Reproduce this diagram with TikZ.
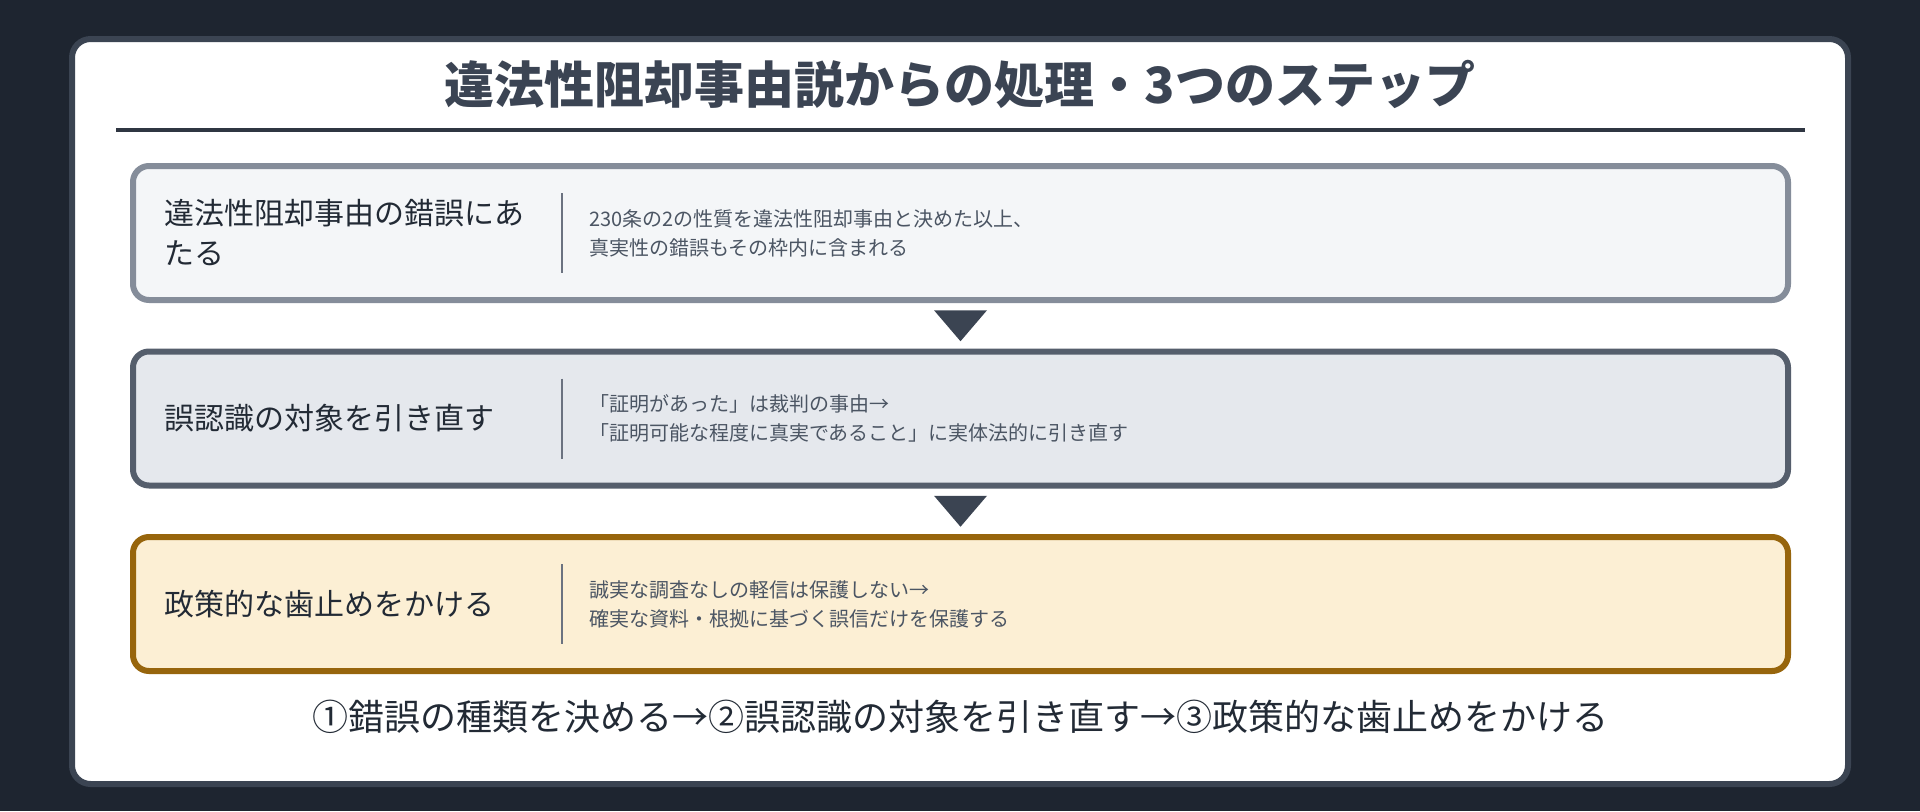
\documentclass[tikz,border=0pt]{standalone}
\usepackage{fontspec}
\setmainfont{Noto Sans CJK JP}
\usetikzlibrary{positioning,calc}
\definecolor{bgdark}{HTML}{1E2530}
\definecolor{cardline}{HTML}{3B4452}
\definecolor{titlec}{HTML}{3B4453}
\definecolor{rulec}{HTML}{2F3642}
\definecolor{fillA}{HTML}{F4F6F8}
\definecolor{lineA}{HTML}{858D9A}
\definecolor{fillB}{HTML}{E5E8ED}
\definecolor{lineB}{HTML}{555E6C}
\definecolor{fillC}{HTML}{FCEFD4}
\definecolor{lineC}{HTML}{97650C}
\definecolor{lefttc}{HTML}{222A35}
\definecolor{righttc}{HTML}{4B5563}
\definecolor{dividerc}{HTML}{6B7280}

\begin{document}
\begin{tikzpicture}[x=0.75pt,y=-0.75pt,
  every node/.style={inner sep=0pt,outer sep=0pt},
  titletext/.style={font=\bfseries\fontsize{37.5pt}{45pt}\selectfont,text=titlec},
  stepbox/.style={draw,line width=4.5pt,rounded corners=12pt,
    minimum width=1241.25pt,minimum height=100.5pt},
  lefttext/.style={anchor=west,align=left,text=lefttc,
    font=\fontsize{22.5pt}{30pt}\selectfont},
  righttext/.style={anchor=west,align=left,text=righttc,
    font=\fontsize{15pt}{21.75pt}\selectfont},
  divider/.style={draw=dividerc,line width=1.5pt},
  downtri/.style={fill=cardline},
  summarytext/.style={font=\fontsize{27pt}{33pt}\selectfont,text=lefttc}]

  \useasboundingbox[fill=bgdark] (0,0) rectangle (1920,811);

  % Card and heading
  \draw[line width=4.5pt,draw=cardline,fill=white,rounded corners=14pt]
    (72,39) rectangle (1848,784);
  \node[titletext] (title) at (960,84) {違法性阻却事由説からの処理・3つのステップ};
  \draw[rulec,line width=2.4pt] (116,130) -- (1805,130);

  % Step boxes
  \foreach \i/\y/\fc/\dc/\lt/\rt in {
    1/233/fillA/lineA/{違法性阻却事由の錯誤にあ\\たる}/{230条の2の性質を違法性阻却事由と決めた以上、\\真実性の錯誤もその枠内に含まれる},
    2/418.5/fillB/lineB/{誤認識の対象を引き直す}/{「証明があった」は裁判の事由→\\「証明可能な程度に真実であること」に実体法的に引き直す},
    3/604/fillC/lineC/{政策的な歯止めをかける}/{誠実な調査なしの軽信は保護しない→\\確実な資料・根拠に基づく誤信だけを保護する}} {
    \node[stepbox,fill=\fc,draw=\dc] (s\i) at (960.5,\y) {};
    \node[lefttext] (l\i) at (164,\y) {\lt};
    \draw[divider] (562,\y-40) -- (562,\y+40);
    \node[righttext] (r\i) at (589,\y) {\rt};
  }

  % Arrows between steps
  \foreach \i/\j in {1/2,2/3} {
    \coordinate (m\i) at ($(s\i.south)!0.5!(s\j.north)$);
    \fill[downtri] ($(m\i)+(-26.5,-15.5)$) -- ($(m\i)+(26.5,-15.5)$)
      -- ($(m\i)+(0,15.5)$) -- cycle;
  }

  % Summary line
  \node[summarytext] (summary) at (960,717)
    {①錯誤の種類を決める→②誤認識の対象を引き直す→③政策的な歯止めをかける};
\end{tikzpicture}
\end{document}
